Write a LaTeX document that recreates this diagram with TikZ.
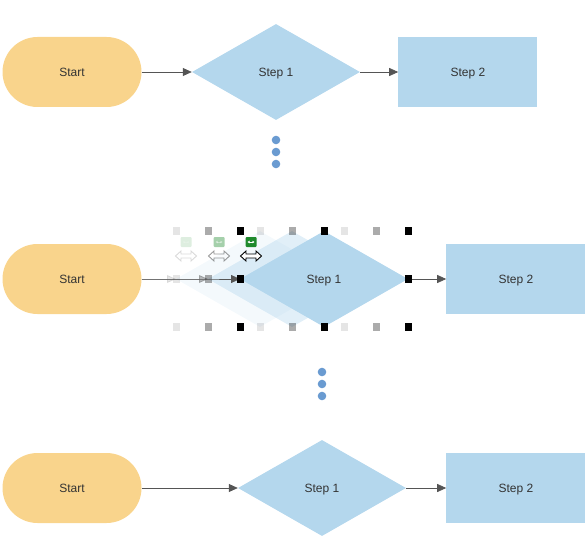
\documentclass[tikz,border=0pt]{standalone}
\usepackage{fontspec}
\setmainfont{Liberation Sans}
\usetikzlibrary{shapes.geometric, arrows.meta, positioning}

\definecolor{pillfill}{HTML}{F9D48C}
\definecolor{stepfill}{HTML}{B4D7ED}
\definecolor{dotblue}{HTML}{6A9BD1}
\definecolor{linegray}{HTML}{555555}
\definecolor{textgray}{HTML}{333333}
\definecolor{iconfill}{HTML}{1F8A2C}

\begin{document}
\begin{tikzpicture}[x=1pt, y=-1pt,
        every node/.style={font=\fontsize{12}{14}\selectfont, text=textgray, text height=8.6pt, text depth=0pt},
        terminal/.style={rectangle, rounded corners=35pt, fill=pillfill, minimum width=139pt, minimum height=70pt, inner sep=0pt},
        decision/.style={diamond, fill=stepfill, minimum width=168pt, minimum height=96pt, inner sep=0pt},
        process/.style={rectangle, fill=stepfill, minimum width=139pt, minimum height=70pt, inner sep=0pt},
        flow/.style={-{Triangle[length=9pt, width=8pt]}, draw=linegray, line width=0.8pt},
        more/.style={circle, fill=dotblue, minimum size=6pt, inner sep=0pt},
        handle/.style={rectangle, fill=black, minimum size=7pt, inner sep=0pt}
    ]
    \useasboundingbox (0,0) rectangle (588,556);
    % Row 1
    \node[terminal] (start1) at (72,72) {Start};
    \node[decision] (dia1) at (276,72) {Step 1};
    \node[process, right=38pt of dia1] (proc1) {Step 2};
    \draw[flow] (start1) -- (dia1);
    \draw[flow] (dia1) -- (proc1);
    \foreach \y [count=\i] in {140,152,164}
        \node[more] (dotsA\i) at (276,\y) {};
    % Row 2 (shape being dragged)
    \node[terminal] (start2) at (72,279) {};
    \node at (start2) {Start};
    \node[decision, fill opacity=0.15] (ghostA) at (260,279) {};
    \node[decision, fill opacity=0.4] (ghostB) at (292,279) {};
    \coordinate (tipA) at (176,279);
    \coordinate (tipB) at (208,279);
    \draw[flow, opacity=0.15] (start2) -- (tipA);
    \draw[flow, opacity=0.4] (start2) -- (tipB);
    % Handles of the ghosts
    \foreach \g/\op in {ghostA/0.1, ghostB/0.33}
        \foreach \dx/\dy in {-84/-48, 0/-48, 84/-48, -84/0, 84/0, -84/48, 0/48, 84/48}
            \node[handle, fill opacity=\op] at ([xshift=\dx pt, yshift=-\dy pt]\g) {};
    \draw[flow] (start2) -- (tipB) -- (tipA -| 240,0);
    \node[decision] (dia2) at (324,279) {Step 1};
    \node[process, right=38pt of dia2] (proc2) {Step 2};
    \draw[flow] (dia2) -- (proc2);
    \foreach \dx/\dy in {-84/-48, 0/-48, 84/-48, -84/0, 84/0, -84/48, 0/48, 84/48}
        \node[handle] at ([xshift=\dx pt, yshift=-\dy pt]dia2) {};
    % Move icons
    \foreach \x/\op in {186/0.15, 219/0.4, 251/1} {
        \begin{scope}[opacity=\op]
            \fill[iconfill, rounded corners=1pt] (\x-5.5,237) rectangle (\x+5.5,247);
            \draw[white, line width=0.8pt, {Latex[length=2pt,width=3pt]}-{Latex[length=2pt,width=3pt]}] (\x-3.5,242) -- (\x+3.5,242);
            \draw[black, fill=white, line width=0.9pt, line join=miter]
                (\x-10.5,256) -- (\x-5,251) -- (\x-5,254) -- (\x+5,254) -- (\x+5,251) -- (\x+10.5,256)
                -- (\x+5,261) -- (\x+5,258) -- (\x-5,258) -- (\x-5,261) -- cycle;
        \end{scope}
    }
    \foreach \y [count=\i] in {372,384,396}
        \node[more] (dotsB\i) at (322,\y) {};
    % Row 3
    \node[terminal] (start3) at (72,488) {Start};
    \node[decision] (dia3) at (322,488) {Step 1};
    \node[process, right=40pt of dia3] (proc3) {Step 2};
    \draw[flow] (start3) -- (dia3);
    \draw[flow] (dia3) -- (proc3);
\end{tikzpicture}
\end{document}
